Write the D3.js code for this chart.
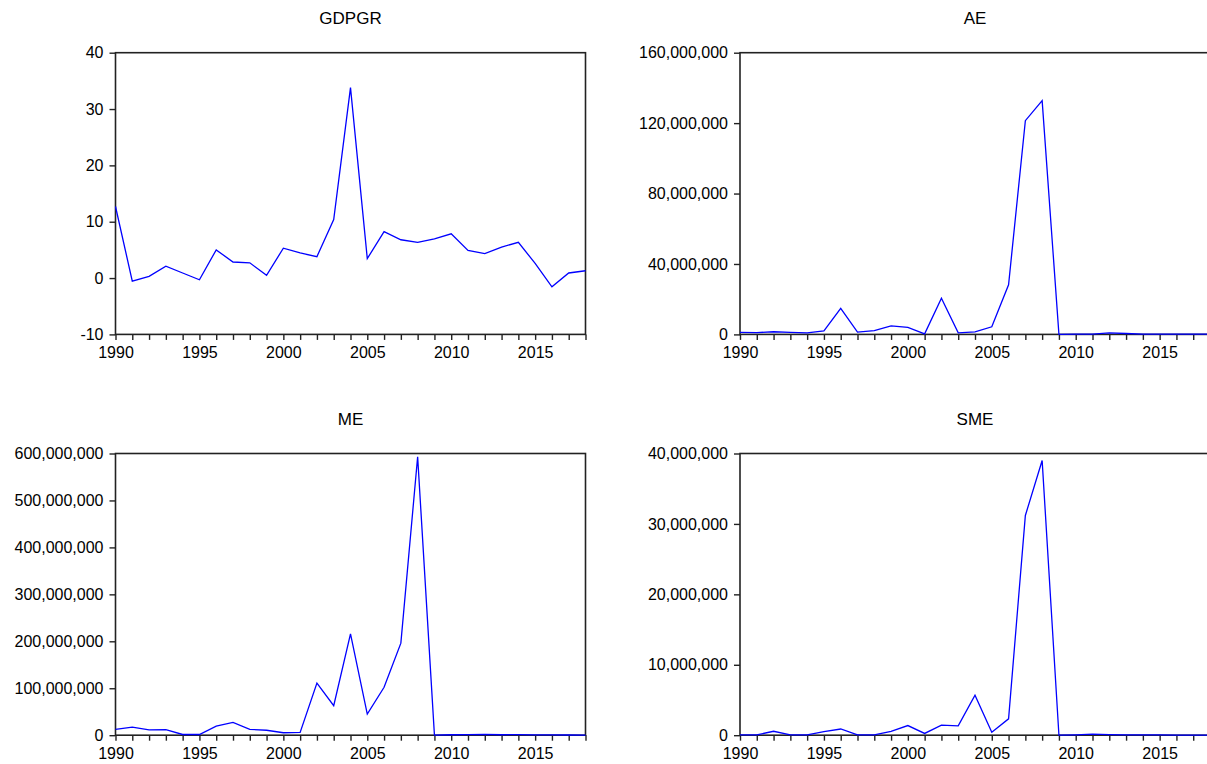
<!DOCTYPE html>
<html>
<head>
<meta charset="utf-8">
<script src="https://cdn.jsdelivr.net/npm/d3@7/dist/d3.min.js"></script>
<style>
  html, body { margin: 0; padding: 0; background: #fff; }
  svg { display: block; }
  text { font-family: "Liberation Sans", Arial, Helvetica, sans-serif; fill: #000; }
</style>
</head>
<body>
<svg id="chart" width="1207" height="764"></svg>
<script>
// ---------- data ----------
const years = [1990,1991,1992,1993,1994,1995,1996,1997,1998,1999,
               2000,2001,2002,2003,2004,2005,2006,2007,2008,2009,
               2010,2011,2012,2013,2014,2015,2016,2017,2018];
const yearLabels = [1990,1995,2000,2005,2010,2015];

const gdpgr = [12.7,-0.55,0.3,2.1,0.9,-0.3,5.0,2.85,2.7,0.5,
               5.3,4.45,3.8,10.4,33.8,3.45,8.25,6.8,6.35,6.95,
               7.85,4.9,4.35,5.5,6.35,2.6,-1.55,0.9,1.3];
const ae = [1.2e6,1.0e6,1.5e6,1.2e6,0.85e6,2.0e6,14.8e6,1.3e6,2.1e6,4.8e6,
            4.0e6,0.3e6,20.5e6,0.9e6,1.4e6,4.3e6,28.2e6,121.4e6,132.8e6,0.05e6,
            0.2e6,0.2e6,0.9e6,0.5e6,0.2e6,0.2e6,0.1e6,0.1e6,0.15e6];
const me = [12.5e6,17e6,11.2e6,12e6,1.5e6,1.5e6,19.5e6,27.3e6,12.5e6,10.5e6,
            5.2e6,6e6,111e6,63e6,216e6,45e6,102e6,196e6,593e6,0.3e6,
            1.0e6,1.2e6,1.8e6,1.0e6,1.2e6,0.8e6,0.5e6,0.4e6,0.3e6];
const sme = [0.05e6,0.05e6,0.56e6,0.05e6,0.05e6,0.5e6,0.88e6,0.05e6,0.05e6,0.55e6,
             1.37e6,0.25e6,1.42e6,1.32e6,5.68e6,0.42e6,2.32e6,31.2e6,39.0e6,0.0,
             0.05e6,0.15e6,0.08e6,0.05e6,0.05e6,0.04e6,0.02e6,0.01e6,0.01e6];

const gdpgrTicks = [-10,0,10,20,30,40];
const aeTicks = [0,40e6,80e6,120e6,160e6];
const meTicks = [0,100e6,200e6,300e6,400e6,500e6,600e6];
const smeTicks = [0,10e6,20e6,30e6,40e6];

const panels = [
  {title:"GDPGR", values:gdpgr, ticks:gdpgrTicks, col:0, row:0},
  {title:"AE",    values:ae,    ticks:aeTicks,    col:1, row:0},
  {title:"ME",    values:me,    ticks:meTicks,    col:0, row:1},
  {title:"SME",   values:sme,   ticks:smeTicks,   col:1, row:1}
];

// ---------- layout ----------
const colX = [115.5, 740];
const rowY = [52.7, 453.5];
const titleBaseline = [24, 425];
const pw = 470, ph = 281.7;

const fmt = d3.formatLocale({decimal:".", thousands:",", grouping:[3], currency:["",""], minus:"-"}).format(",");

const svg = d3.select("#chart");

panels.forEach(p => {
  const x0 = colX[p.col], y0 = rowY[p.row];
  const g = svg.append("g").attr("transform", `translate(${x0},${y0})`);

  const x = d3.scaleLinear().domain([years[0], years[years.length-1]]).range([0, pw]);
  const y = d3.scaleLinear().domain([p.ticks[0], p.ticks[p.ticks.length-1]]).range([ph, 0]);

  // title
  g.append("text")
    .attr("x", pw/2)
    .attr("y", titleBaseline[p.row] - y0)
    .attr("text-anchor", "middle")
    .style("font-size", "17px")
    .text(p.title);

  // y axis
  const ya = d3.axisLeft(y).tickValues(p.ticks).tickFormat(fmt).tickSize(6).tickPadding(6).tickSizeOuter(0);
  const yg = g.append("g").call(ya);
  yg.select(".domain").remove();
  yg.selectAll("line").attr("stroke", "#222").attr("stroke-width", 1.4);
  yg.selectAll("text").style("font-size", "16px").attr("fill", "#000");

  // x axis
  const xa = d3.axisBottom(x).tickValues(years)
    .tickFormat(d => yearLabels.includes(d) ? String(d) : "")
    .tickSize(5.5).tickPadding(7).tickSizeOuter(0);
  const xg = g.append("g").attr("transform", `translate(0,${ph})`).call(xa);
  xg.select(".domain").remove();
  xg.selectAll("line").attr("stroke", "#222").attr("stroke-width", 1.4);
  xg.selectAll("text").style("font-size", "16px").attr("fill", "#000");

  // frame
  g.append("rect")
    .attr("x", 0).attr("y", 0).attr("width", pw).attr("height", ph)
    .attr("fill", "none").attr("stroke", "#222").attr("stroke-width", 1.6);

  // series line
  const line = d3.line().x((d, i) => x(years[i])).y(d => y(d));
  g.append("path")
    .datum(p.values)
    .attr("d", line)
    .attr("fill", "none")
    .attr("stroke", "#0000ff")
    .attr("stroke-width", 1.3)
    .attr("stroke-linejoin", "miter");
});
</script>
</body>
</html>
